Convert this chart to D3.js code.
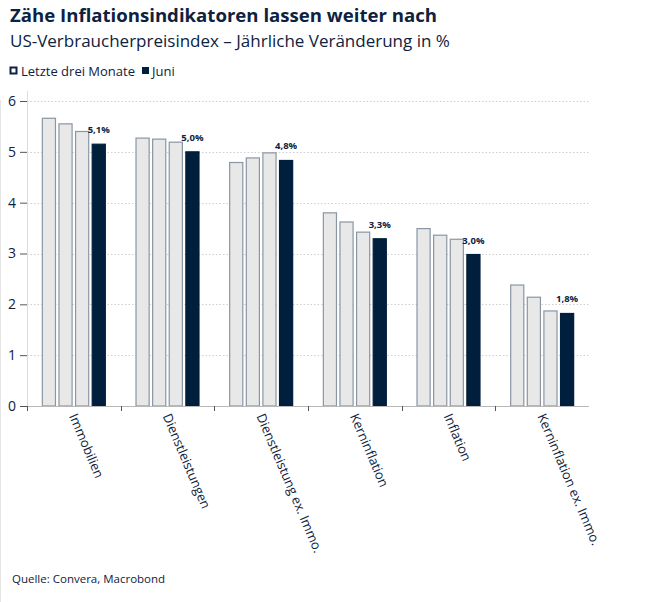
<!DOCTYPE html>
<html lang="de">
<head>
    <meta charset="UTF-8">
    <title>Zähe Inflationsindikatoren</title>
    <script src="https://d3js.org/d3.v7.min.js"></script>
    <style>
        body, html {
            margin: 0;
            background: #ffffff;
            font-family: 'Open Sans', sans-serif;
        }
        text {
            fill: #0d2240;
        }
    </style>
</head>
<body>
<svg id="chart" width="656" height="602"></svg>

<script>
    // Daten
    const categories = ["Immobilien", "Dienstleistungen", "Dienstleistung ex. Immo.", "Kerninflation", "Inflation", "Kerninflation ex. Immo."];
    const series = ["m1", "m2", "m3", "juni"];
    const month1 = [5.66, 5.27, 4.79, 3.80, 3.49, 2.38];
    const month2 = [5.55, 5.25, 4.88, 3.62, 3.36, 2.14];
    const month3 = [5.40, 5.19, 4.98, 3.42, 3.28, 1.87];
    const juni = [5.15, 5.00, 4.83, 3.29, 2.98, 1.82];
    const juniLabels = ["5,1%", "5,0%", "4,8%", "3,3%", "3,0%", "1,8%"];
    const yTicks = [0, 1, 2, 3, 4, 5, 6];
    const legendLabels = ["Letzte drei Monate", "Juni"];

    const values = [month1, month2, month3, juni];

    const svg = d3.select("#chart");
    const plotLeft = 27, plotRight = 589, plotTop = 101, plotBottom = 406;

    const x = d3.scaleBand().domain(categories).range([plotLeft, plotRight])
        .paddingInner(0.317).paddingOuter(0.1585);
    const xInner = d3.scaleBand().domain(series).range([0, x.bandwidth()])
        .paddingInner(0.15).paddingOuter(0);
    const y = d3.scaleLinear().domain([0, 6]).range([plotBottom, plotTop]);

    // feine Linie links
    svg.append("line")
        .attr("x1", 0.5).attr("x2", 0.5).attr("y1", 100).attr("y2", 602)
        .attr("stroke", "#e4e4e4");

    // Titel
    svg.append("text").attr("x", 10).attr("y", 22)
        .attr("font-size", 18.6).attr("font-weight", 700)
        .text("Zähe Inflationsindikatoren lassen weiter nach");
    svg.append("text").attr("x", 10).attr("y", 47)
        .attr("font-size", 17)
        .text("US-Verbraucherpreisindex – Jährliche Veränderung in %");

    // Legende
    const legend = svg.append("g");
    legend.append("rect").attr("x", 10.5).attr("y", 67.5).attr("width", 6).attr("height", 6)
        .attr("fill", "#ffffff").attr("stroke", "#0d2240").attr("stroke-width", 2);
    legend.append("text").attr("x", 21).attr("y", 76).attr("font-size", 13).text(legendLabels[0]);
    legend.append("rect").attr("x", 142).attr("y", 67).attr("width", 7).attr("height", 7)
        .attr("fill", "#001f3d");
    legend.append("text").attr("x", 152).attr("y", 76).attr("font-size", 13).text(legendLabels[1]);

    // Gitternetz
    svg.append("g")
        .selectAll("line")
        .data(yTicks.filter(d => d > 0))
        .join("line")
        .attr("x1", plotLeft).attr("x2", plotRight)
        .attr("y1", d => Math.round(y(d)) + 0.5).attr("y2", d => Math.round(y(d)) + 0.5)
        .attr("stroke", "#cfcfcf")
        .attr("stroke-dasharray", "1.5,2");

    // y-Achse
    svg.append("line")
        .attr("x1", plotLeft + 0.5).attr("x2", plotLeft + 0.5).attr("y1", 91).attr("y2", plotBottom)
        .attr("stroke", "#dcdcdc");
    const yAxis = svg.append("g")
        .attr("transform", `translate(${plotLeft},0)`)
        .call(d3.axisLeft(y).tickValues(yTicks).tickSize(7).tickPadding(4).tickFormat(d3.format("d")));
    yAxis.select(".domain").remove();
    yAxis.selectAll(".tick line").attr("stroke", "#555");
    yAxis.selectAll(".tick text")
        .attr("font-family", "'Open Sans', sans-serif")
        .attr("font-size", 14)
        .attr("fill", "#0d2240");

    // Balken
    const groups = svg.append("g")
        .selectAll("g")
        .data(categories)
        .join("g")
        .attr("transform", d => `translate(${x(d)},0)`);

    groups.selectAll("rect")
        .data((d, i) => series.map((s, j) => ({ s: s, v: values[j][i] })))
        .join("rect")
        .attr("x", d => xInner(d.s) + 0.5)
        .attr("y", d => y(d.v))
        .attr("width", xInner.bandwidth() - 1)
        .attr("height", d => y(0) - y(d.v))
        .attr("fill", d => d.s === "juni" ? "#001f3d" : "#e8e8e8")
        .attr("stroke", d => d.s === "juni" ? "#001f3d" : "#8a96a3")
        .attr("stroke-width", 1.2);

    // Werte über Juni-Balken
    groups.append("text")
        .attr("x", xInner("juni") + xInner.bandwidth() / 2)
        .attr("y", (d, i) => y(juni[i]) - 11)
        .attr("text-anchor", "middle")
        .attr("font-size", 9.5)
        .attr("font-weight", 700)
        .text((d, i) => juniLabels[i]);

    // x-Achse
    svg.append("line")
        .attr("x1", plotLeft).attr("x2", plotRight).attr("y1", plotBottom + 0.5).attr("y2", plotBottom + 0.5)
        .attr("stroke", "#b8b8b8");
    const step = x.step();
    svg.append("g")
        .selectAll("line")
        .data(d3.range(0, categories.length))
        .join("line")
        .attr("x1", i => Math.round(plotLeft + i * step) + 0.5)
        .attr("x2", i => Math.round(plotLeft + i * step) + 0.5)
        .attr("y1", plotBottom).attr("y2", plotBottom + 5)
        .attr("stroke", "#555");

    svg.append("g")
        .selectAll("text")
        .data(categories)
        .join("text")
        .attr("transform", d => `translate(${x(d) + x.bandwidth() / 2 - 5},${plotBottom + 10}) rotate(67)`)
        .attr("font-size", 13)
        .text(d => d);

    // Quelle
    svg.append("text").attr("x", 12).attr("y", 583)
        .attr("font-size", 11.5)
        .text("Quelle: Convera, Macrobond");
</script>

</body>
</html>
